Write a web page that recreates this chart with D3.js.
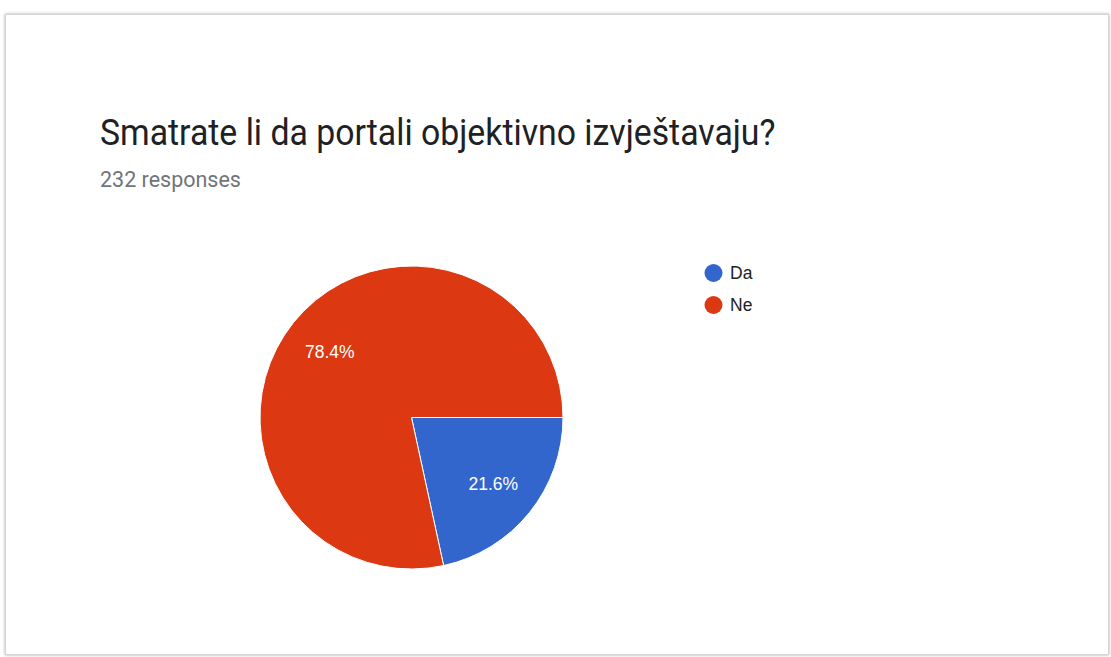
<!DOCTYPE html>
<html>
<head>
<meta charset="utf-8">
<script src="https://cdn.jsdelivr.net/npm/d3@7/dist/d3.min.js"></script>
<style>
  html, body { margin: 0; padding: 0; background: #ffffff; }
  svg { display: block; }
</style>
</head>
<body>
<svg id="chart" width="1111" height="657"></svg>
<script>
const categories = ["Da", "Ne"];
const values = [21.6, 78.4];
const colors = ["#3366cc", "#dc3912"];
const title = "Smatrate li da portali objektivno izvještavaju?";
const subtitle = "232 responses";

const svg = d3.select("#chart");

// card frame with soft shadow
const defs = svg.append("defs");
const f = defs.append("filter").attr("id", "sh").attr("x", "-5%").attr("y", "-5%").attr("width", "110%").attr("height", "110%");
f.append("feDropShadow").attr("dx", 0).attr("dy", 0).attr("stdDeviation", 1.5).attr("flood-color", "#000").attr("flood-opacity", 0.35);
svg.append("rect").attr("x", 5.5).attr("y", 14.5).attr("width", 1103).attr("height", 640)
  .attr("fill", "#ffffff").attr("stroke", "#d6d6d6").attr("stroke-width", 1).attr("filter", "url(#sh)");

svg.append("text").attr("transform", "translate(100,144.5) scale(1,1.1)")
  .attr("font-family", "Roboto, 'Noto Sans', sans-serif").attr("font-size", 33.8)
  .attr("fill", "#202124").text(title);
svg.append("text").attr("x", 100).attr("y", 187)
  .attr("font-family", "Roboto, 'Noto Sans', sans-serif").attr("font-size", 21.5)
  .attr("fill", "#70757a").text(subtitle);

const cx = 411.5, cy = 417.5, r = 151.5;
const start = Math.PI / 2;
const pie = d3.pie().sort(null).value(d => d).startAngle(start).endAngle(start + 2 * Math.PI);
const arcs = pie(values);
const arc = d3.arc().innerRadius(0).outerRadius(r);
const labelArc = d3.arc().innerRadius(105).outerRadius(105);
const color = d3.scaleOrdinal().domain(categories).range(colors);

const g = svg.append("g").attr("transform", `translate(${cx},${cy})`);
g.selectAll("path").data(arcs).join("path")
  .attr("d", arc)
  .attr("fill", (d, i) => color(categories[i]))
  .attr("stroke", "#ffffff").attr("stroke-width", 1);

g.selectAll("text.lbl").data(arcs).join("text").attr("class", "lbl")
  .attr("transform", d => `translate(${labelArc.centroid(d)})`)
  .attr("text-anchor", "middle").attr("dy", "0.36em")
  .attr("font-family", "Arial, 'Liberation Sans', sans-serif").attr("font-size", 17.5)
  .attr("fill", "#ffffff")
  .text(d => d.data.toFixed(1) + "%");

// legend
const leg = svg.append("g");
const legY = d3.scalePoint().domain(categories).range([273, 305]);
categories.forEach(c => {
  leg.append("circle").attr("cx", 713.5).attr("cy", legY(c)).attr("r", 9).attr("fill", color(c));
  leg.append("text").attr("x", 730).attr("y", legY(c)).attr("dy", "0.36em")
    .attr("font-family", "Arial, 'Liberation Sans', sans-serif").attr("font-size", 17.5)
    .attr("fill", "#222222").text(c);
});
</script>
</body>
</html>
